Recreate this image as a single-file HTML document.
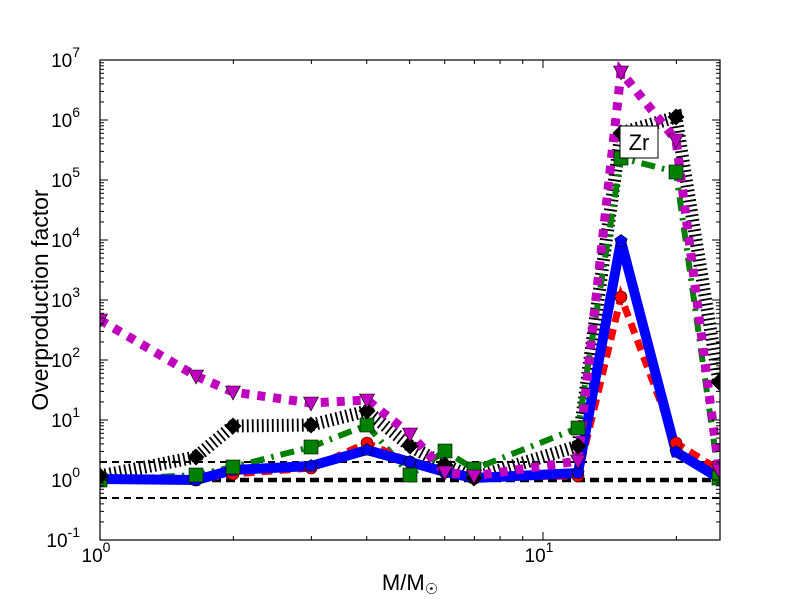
<!DOCTYPE html><html><head><style>body{margin:0;background:#fff}svg{display:block}text{font-family:"Liberation Sans","DejaVu Sans",sans-serif}</style></head><body>
<svg id="s" width="800" height="600" xmlns="http://www.w3.org/2000/svg">
<rect width="800" height="600" fill="#fff"/>
<defs><clipPath id="c"><rect x="100" y="60" width="620" height="480"/></clipPath></defs>
<g id="plot" clip-path="url(#c)">
<line x1="100" y1="462" x2="720" y2="462" stroke="#000" stroke-width="2" stroke-dasharray="7,5"/>
<line x1="100" y1="480" x2="720" y2="480" stroke="#000" stroke-width="4.5" stroke-dasharray="9,5"/>
<line x1="100" y1="498" x2="720" y2="498" stroke="#000" stroke-width="2" stroke-dasharray="7,5"/>
</g>
<g id="ax"></g>
<rect x="100" y="60" width="620" height="480" fill="none" stroke="#000" stroke-width="1.2"/>
<rect x="620" y="126" width="38" height="32" fill="#fff" stroke="#000" stroke-width="1"/>
<text x="639" y="150" font-size="22" text-anchor="middle">Zr</text>
<text transform="translate(48,300) rotate(-90)" font-size="23" text-anchor="middle">Overproduction factor</text>
<text x="410" y="590" font-size="22" text-anchor="middle">M/M<tspan font-size="15" dy="4">☉</tspan></text>
</svg>
<script>
const N="http://www.w3.org/2000/svg",p=document.getElementById('plot'),ax=document.getElementById('ax');
function el(t,a,par){const e=document.createElementNS(N,t);for(const k in a)e.setAttribute(k,a[k]);(par||p).appendChild(e);return e;}
const X=[100,196,233,311,367,410,445,474,578,621,676,719];
const S={
red:[478,480,474,468,443,462,472,477,476,297,443,470],
blue:[479,480,470,466,450,462,472,478,473,241,452,478],
green:[480,475,467,447,425,475,451,469,428,158,172,478],
black:[476,457,426,425,411,446,465,478,446,133,117,382],
mag:[320,376,392,403,400,434,472,476,461,72,140,470]};
function pts(a){return a.map((y,i)=>X[i]+','+y).join(' ');}
el('polyline',{points:pts(S.black),fill:'none',stroke:'#000','stroke-width':13,'stroke-dasharray':'1.8,3.2'});
el('polyline',{points:pts(S.green),fill:'none',stroke:'#008000','stroke-width':6,'stroke-dasharray':'14,7,2.5,7'});
el('polyline',{points:pts(S.red),fill:'none',stroke:'#f00','stroke-width':7,'stroke-dasharray':'11,7'});
el('polyline',{points:pts(S.blue),fill:'none',stroke:'#00f','stroke-width':10,'stroke-linejoin':'round'});
el('polyline',{points:pts(S.mag),fill:'none',stroke:'#bf00bf','stroke-width':9,'stroke-dasharray':'8,8'});
X.forEach((x,i)=>{
el('circle',{cx:x,cy:S.red[i],r:6,fill:'#f00',stroke:'#000','stroke-width':.6});
let y=S.blue[i],q=[];for(let k=0;k<5;k++){const a=-Math.PI/2+k*2*Math.PI/5;q.push((x+6.5*Math.cos(a))+','+(y+6.5*Math.sin(a)));}
el('polygon',{points:q.join(' '),fill:'#00f',stroke:'#000','stroke-width':.6});
y=S.green[i];el('rect',{x:x-7,y:y-7,width:14,height:14,fill:'#008000',stroke:'#000','stroke-width':.6});
y=S.black[i];el('polygon',{points:`${x},${y-8.5} ${x+8.5},${y} ${x},${y+8.5} ${x-8.5},${y}`,fill:'#000'});
y=S.mag[i];el('polygon',{points:`${x-7.5},${y-6} ${x+7.5},${y-6} ${x},${y+8}`,fill:'#bf00bf',stroke:'#000','stroke-width':.6});
});
for(let d=-1;d<=7;d++){const y=480-60*d;
el('line',{x1:100,y1:y,x2:108,y2:y,stroke:'#000'},ax);el('line',{x1:720,y1:y,x2:712,y2:y,stroke:'#000'},ax);
const t=el('text',{x:80,y:y+7,'font-size':19,'text-anchor':'end'},ax);t.textContent='10';
const s=el('tspan',{dy:-10,'font-size':14},t);s.textContent=String(d);
if(d<7)for(let m=2;m<10;m++){const yy=y-60*Math.log10(m);
el('line',{x1:100,y1:yy,x2:104,y2:yy,stroke:'#000'},ax);el('line',{x1:720,y1:yy,x2:716,y2:yy,stroke:'#000'},ax);}}
[[100,'0'],[543,'1']].forEach(([x,e])=>{el('line',{x1:x,y1:540,x2:x,y2:532,stroke:'#000'},ax);el('line',{x1:x,y1:60,x2:x,y2:68,stroke:'#000'},ax);
const t=el('text',{x:x-4,y:562,'font-size':19,'text-anchor':'middle'},ax);t.textContent='10';const s=el('tspan',{dy:-10,'font-size':14},t);s.textContent=e;});
for(const dec of [1,10])for(let m=2;m<10;m++){const v=dec*m;if(v>25)break;const x=100+443*Math.log10(v);
el('line',{x1:x,y1:540,x2:x,y2:536,stroke:'#000'},ax);el('line',{x1:x,y1:60,x2:x,y2:64,stroke:'#000'},ax);}
</script>
</body></html>
